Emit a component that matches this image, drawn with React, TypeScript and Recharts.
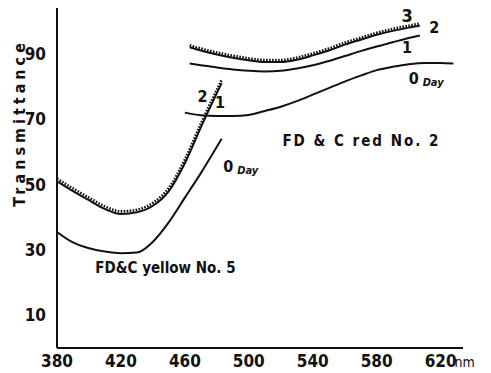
import { Line, LineChart, ReferenceDot, XAxis, YAxis } from "recharts";

const FONT = '"DejaVu Sans Condensed", "DejaVu Sans", sans-serif';
const TICK_FONT = '"Liberation Sans Narrow", "DejaVu Sans Condensed", sans-serif';

// FD&C yellow No. 5
const yellowNm = [380, 390, 400, 410, 420, 430, 440, 450, 460, 470, 483];
const yellowDay0 = [35.5, 32.3, 30.5, 29.5, 29, 29.2, 32.5, 38.5, 46, 53.5, 64];
const yellowDay1 = [51, 48, 45.2, 42.5, 41, 41.5, 43.5, 48, 56.5, 67.5, 81];
const yellowDay2 = [51.8, 48.8, 46, 43.3, 41.8, 42.3, 44.4, 49, 57.6, 68.6, 82];

// FD&C red No. 2
const redNm0 = [460, 470, 480, 490, 500, 510, 520, 530, 540, 550, 560, 570, 580, 590, 600, 610, 620, 628];
const redDay0 = [72, 71.2, 71, 71, 71.3, 72.5, 73.8, 75.5, 77.5, 79.5, 81.5, 83.3, 85, 86, 86.8, 87.2, 87.2, 87];
const redNm = [463, 470, 480, 490, 500, 510, 520, 530, 540, 550, 560, 570, 580, 590, 600, 607];
const redDay1 = [87, 86.5, 85.8, 85.2, 84.8, 84.6, 84.8, 85.5, 86.5, 87.8, 89.3, 90.8, 92.2, 93.5, 94.8, 95.6];
const redDay2 = [92, 91, 89.8, 88.8, 88, 87.5, 87.5, 88.2, 89.5, 91, 92.8, 94.3, 95.8, 97, 98, 98.6];
const redDay3 = [92.6, 91.6, 90.4, 89.4, 88.6, 88.1, 88.1, 88.8, 90.1, 91.6, 93.4, 94.9, 96.4, 97.6, 98.6, 99.2];

const xTicks = [380, 420, 460, 500, 540, 580, 620];
const yTicks = [10, 30, 50, 70, 90];

type Note = { nm: number; v: number; text: string; day?: boolean; size?: number; spacing?: number };
const notes: Note[] = [
  { nm: 471, v: 77, text: "2" },
  { nm: 482, v: 75, text: "1" },
  { nm: 484, v: 55.5, text: "0", day: true },
  { nm: 404, v: 24.5, text: "FD&C yellow No. 5", size: 15 },
  { nm: 521, v: 63.5, text: "FD & C  red No. 2", size: 15, spacing: 2 },
  { nm: 599, v: 101.5, text: "3", size: 18 },
  { nm: 616, v: 98, text: "2" },
  { nm: 599, v: 92, text: "1" },
  { nm: 600, v: 82.5, text: "0", day: true },
];

const zip = (xs: number[], ys: number[]) => xs.map((nm, i) => ({ nm, v: ys[i] }));

function NoteLabel(props: any, n: Note) {
  const vb = props.viewBox || {};
  const x = (vb.x ?? 0) + (vb.width ?? 0) / 2;
  const y = (vb.y ?? 0) + (vb.height ?? 0) / 2;
  const fs = n.size ?? 16;
  const centered = n.text.length === 1 && !n.day;
  return (
    <text
      x={x}
      y={y}
      dy="0.35em"
      textAnchor={centered ? "middle" : "start"}
      fontFamily={FONT}
      fontWeight="bold"
      fontSize={fs}
      letterSpacing={n.spacing ?? 0}
      fill="#111"
    >
      {n.text}
      {n.day ? (
        <tspan fontSize={11} dx={4} dy={2} fontStyle="italic">
          Day
        </tspan>
      ) : null}
    </text>
  );
}

function XTick(props: any) {
  const { x, y, payload } = props;
  return (
    <g>
      <text x={x} y={y + 11} textAnchor="middle" fontFamily={TICK_FONT} fontWeight="bold" fontSize={17} fill="#111">
        {payload.value}
      </text>
      {payload.value === 620 ? (
        <text x={x + 14} y={y + 11} textAnchor="start" fontFamily={FONT} fontSize={14} fill="#111">
          nm
        </text>
      ) : null}
    </g>
  );
}

function YTitle(props: any) {
  const vb = props.viewBox || {};
  const cx = 19;
  const cy = (vb.y ?? 0) + (vb.height ?? 0) * 0.338;
  return (
    <text
      x={cx}
      y={cy}
      dy="0.35em"
      textAnchor="middle"
      transform={`rotate(-90, ${cx}, ${cy})`}
      fontFamily={FONT}
      fontWeight="bold"
      fontSize={16}
      letterSpacing={4}
      fill="#111"
    >
      Transmittance
    </text>
  );
}

export default function App() {
  const lines = [
    { key: "y0", data: zip(yellowNm, yellowDay0), dotted: false },
    { key: "y1", data: zip(yellowNm, yellowDay1), dotted: false },
    { key: "y2", data: zip(yellowNm, yellowDay2), dotted: true },
    { key: "r0", data: zip(redNm0, redDay0), dotted: false },
    { key: "r1", data: zip(redNm, redDay1), dotted: false },
    { key: "r2", data: zip(redNm, redDay2), dotted: false },
    { key: "r3", data: zip(redNm, redDay3), dotted: true },
  ];
  return (
    <div style={{ position: "absolute", left: 0, top: 0, background: "#fff" }}>
      <LineChart width={491} height={373} margin={{ top: 8, right: 28, left: 0, bottom: 0 }}>
        <XAxis
          type="number"
          dataKey="nm"
          domain={[380, 634]}
          ticks={xTicks}
          allowDataOverflow
          height={25}
          tickLine={false}
          axisLine={{ stroke: "#111", strokeWidth: 2 }}
          tick={<XTick />}
        />
        <YAxis
          type="number"
          dataKey="v"
          domain={[0, 104]}
          ticks={yTicks}
          allowDataOverflow
          width={57}
          tickLine={false}
          tickMargin={5}
          axisLine={{ stroke: "#111", strokeWidth: 2 }}
          tick={{ fontFamily: TICK_FONT, fontWeight: "bold", fontSize: 17, fill: "#111" }}
          label={(p: any) => <YTitle {...p} />}
        />
        {lines.map((l) => (
          <Line
            key={l.key}
            data={l.data}
            dataKey="v"
            type="monotone"
            stroke="#111"
            strokeWidth={l.dotted ? 2.6 : 2}
            strokeDasharray={l.dotted ? "1.6 1.4" : undefined}
            dot={false}
            activeDot={false}
            isAnimationActive={false}
          />
        ))}
        {notes.map((n, i) => (
          <ReferenceDot
            key={i}
            x={n.nm}
            y={n.v}
            r={0}
            fill="none"
            stroke="none"
            ifOverflow="visible"
            label={(p: any) => NoteLabel(p, n)}
          />
        ))}
      </LineChart>
    </div>
  );
}
